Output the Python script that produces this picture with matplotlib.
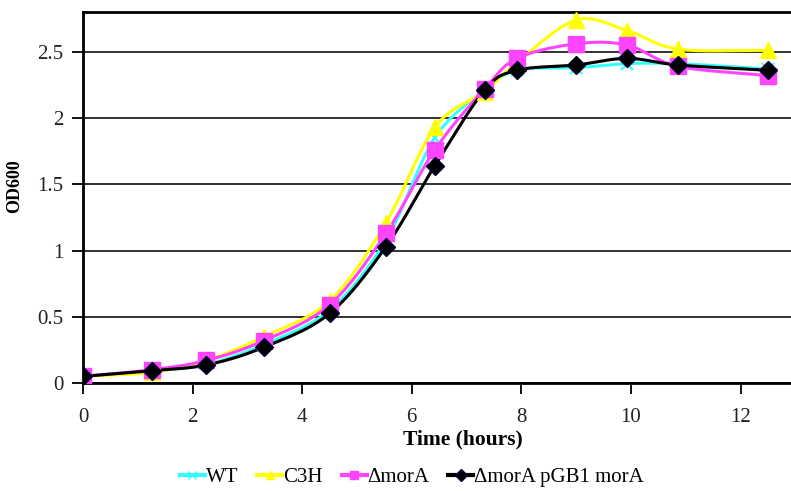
import numpy as np
import matplotlib
matplotlib.use("Agg")
import matplotlib.pyplot as plt
from matplotlib.lines import Line2D

# ---- data ----
time_h = [0, 1.25, 2.25, 3.3, 4.5, 5.53, 6.42, 7.33, 7.92, 9.0, 9.93, 10.86, 12.5]
wt      = [0.05, 0.09, 0.14, 0.29, 0.55, 1.08, 1.85, 2.21, 2.36, 2.38, 2.41, 2.41, 2.37]
c3h     = [0.05, 0.08, 0.17, 0.35, 0.62, 1.21, 1.93, 2.20, 2.42, 2.74, 2.66, 2.52, 2.51]
dmora   = [0.05, 0.10, 0.17, 0.32, 0.59, 1.13, 1.76, 2.22, 2.45, 2.56, 2.55, 2.39, 2.32]
dmora_c = [0.05, 0.093, 0.136, 0.27, 0.525, 1.03, 1.64, 2.21, 2.36, 2.40, 2.45, 2.40, 2.36]
labels = ["WT", "C3H", "\u0394morA", "\u0394morA pGB1 morA"]
yticks = [0, 0.5, 1, 1.5, 2, 2.5]
xticks = [0, 2, 4, 6, 8, 10, 12]


def smooth(x, y, n=30):
    """Catmull-Rom style smoothed path through the data points (line style only)."""
    x = np.asarray(x, float); y = np.asarray(y, float)
    px = np.concatenate([[2 * x[0] - x[1]], x, [2 * x[-1] - x[-2]]])
    py = np.concatenate([[2 * y[0] - y[1]], y, [2 * y[-1] - y[-2]]])
    xs, ys = [], []
    t = np.linspace(0, 1, n)
    for i in range(1, len(px) - 2):
        p0, p1, p2, p3 = [np.array([px[j], py[j]]) for j in (i - 1, i, i + 1, i + 2)]
        c1 = p1 + (p2 - p0) / 6
        c2 = p2 - (p3 - p1) / 6
        pts = ((1 - t) ** 3)[:, None] * p1 + (3 * (1 - t) ** 2 * t)[:, None] * c1 \
            + (3 * (1 - t) * t ** 2)[:, None] * c2 + (t ** 3)[:, None] * p2
        xs.append(pts[:, 0]); ys.append(pts[:, 1])
    return np.concatenate(xs), np.concatenate(ys)


plt.rcParams['font.family'] = ['Liberation Serif', 'DejaVu Serif']

fig = plt.figure(figsize=(7.91, 4.91), dpi=100)
ax = fig.add_axes([83 / 791, 1 - 383 / 491, 1 - 83 / 791, (383 - 12) / 491])

series = [
    (wt, "#33FFFF", "x", "#33FFFF", "#33FFFF", 9),
    (c3h, "#FFFF00", "^", "#FFFF00", "#FFFF00", 11),
    (dmora, "#FF44FF", "s", "#FF44FF", "#FF44FF", 11),
    (dmora_c, "#000000", "D", "#000000", "#000033", 9),
]
handles = []
for (vals, col, mk, fc, ec, ms), lab in zip(series, labels):
    sx, sy = smooth(time_h, vals)
    ax.plot(sx, sy, color=col, lw=2.2, zorder=3)
    ax.plot(time_h, vals, ls="none", marker=mk, ms=ms, mfc=fc, mec=ec,
            mew=1.5 if mk == "x" else 1, zorder=4)
    handles.append(Line2D([0], [0], color=col, lw=3, marker=mk, ms=6, mfc=fc, mec=ec))

ax.set_xlim(0, (791 - 83) / 54.8)
ax.set_ylim(0, 2.8)
ax.set_xticks(xticks)
ax.set_yticks(yticks)
ax.set_yticklabels([f"{v:g}" for v in yticks])
ax.yaxis.grid(True, color="#222222", lw=1.3)
ax.set_axisbelow(True)
for s in ("left", "bottom", "top"):
    ax.spines[s].set_linewidth(2)
ax.spines["right"].set_visible(False)
ax.tick_params(axis="both", direction="out", length=8, width=1.3, labelsize=15,
               labelcolor="#222222")
ax.tick_params(axis="y", pad=6)
ax.tick_params(axis="x", pad=10)
ax.set_xlabel("Time (hours)", fontsize=15.5, fontweight="bold")
ax.xaxis.set_label_coords((463 - 83) / 708, -0.126)
ax.set_ylabel("OD600", fontsize=13, fontweight="bold")
ax.yaxis.set_label_coords(-0.085, 0.53)

fig.legend(handles, labels, loc="center", bbox_to_anchor=(412 / 791, 1 - 477 / 491),
           ncol=4, frameon=False, fontsize=15, handlelength=1.2, handletextpad=0.05,
           columnspacing=0.9)

fig.savefig("out.png", dpi=100)
